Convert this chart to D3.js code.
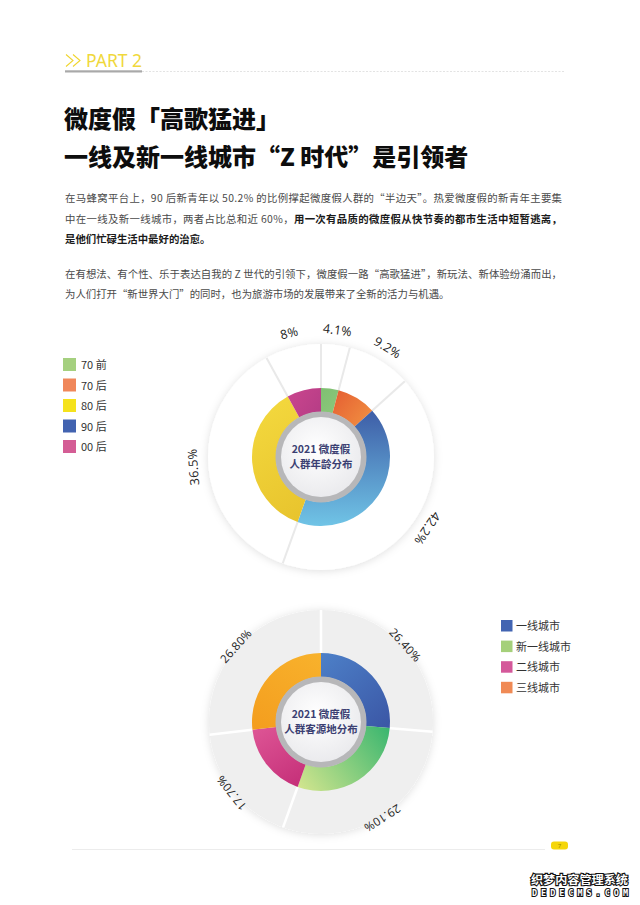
<!DOCTYPE html>
<html><head><meta charset="utf-8">
<script src="https://cdn.jsdelivr.net/npm/d3@7"></script>
<style>body{margin:0;background:#fff}svg{display:block}</style>
</head><body><svg id="c" width="640" height="905"></svg>
<script>
// ---------- data ----------
const ageLegend = ["70 前", "70 后", "80 后", "90 后", "00 后"];
const ageLegendColors = ["#a5d07f", "#f0875a", "#f5e21c", "#4263b0", "#d45d95"];
const ageSlices = ["70 前", "70 后", "90 后", "80 后", "00 后"];
const ageValues = [4.1, 9.2, 42.2, 36.5, 8];
const ageLabels = ["4.1%", "9.2%", "42.2%", "36.5%", "8%"];

const cityCats = ["一线城市", "新一线城市", "二线城市", "三线城市"];
const cityValues = [26.4, 29.1, 17.7, 26.8];
const cityLabels = ["26.40%", "29.10%", "17.70%", "26.80%"];
const cityLegendColors = ["#4264b2", "#a5d07a", "#d4589a", "#f08a55"];

const titleLines = ["微度假「高歌猛进」", "一线及新一线城市“Z 时代”是引领者"];
const paraLines = [
  [["在马蜂窝平台上，90 后新青年以 50.2% 的比例撑起微度假人群的“半边天”。热爱微度假的新青年主要集", false]],
  [["中在一线及新一线城市，两者占比总和近 60%，", false], ["用一次有品质的微度假从快节奏的都市生活中短暂逃离，", true]],
  [["是他们忙碌生活中最好的治愈。", true]],
  [["在有想法、有个性、乐于表达自我的 Z 世代的引领下，微度假一路“高歌猛进”，新玩法、新体验纷涌而出，", false]],
  [["为人们打开“新世界大门”的同时，也为旅游市场的发展带来了全新的活力与机遇。", false]]
];

// ---------- page ----------
const svg = d3.select("#c");
const CJK = "'Noto Sans CJK SC','Noto Sans',sans-serif";
const defs = svg.append("defs");

const f = defs.append("filter").attr("id", "sh").attr("x", "-20%").attr("y", "-20%").attr("width", "140%").attr("height", "140%");
f.append("feDropShadow").attr("dx", 0).attr("dy", 1).attr("stdDeviation", 4).attr("flood-color", "#000").attr("flood-opacity", 0.13);

const rg = defs.append("radialGradient").attr("id", "hub").attr("cx", "45%").attr("cy", "40%").attr("r", "65%");
rg.append("stop").attr("offset", "0%").attr("stop-color", "#ffffff");
rg.append("stop").attr("offset", "100%").attr("stop-color", "#e9e9ec");

function lg(id, x1, y1, x2, y2, c1, c2) {
  const g = defs.append("linearGradient").attr("id", id).attr("gradientUnits", "userSpaceOnUse")
    .attr("x1", x1).attr("y1", y1).attr("x2", x2).attr("y2", y2);
  g.append("stop").attr("offset", "0%").attr("stop-color", c1);
  g.append("stop").attr("offset", "100%").attr("stop-color", c2);
  return "url(#" + id + ")";
}

// header
const hd = svg.append("g");
[66, 73].forEach(x => hd.append("path")
  .attr("d", `M${x},54.5 L${x + 7},60.5 L${x},66.5`)
  .attr("fill", "none").attr("stroke", "#f0d52e").attr("stroke-width", 1.1));
hd.append("text").attr("x", 86).attr("y", 67).text("PART 2")
  .attr("font-family", "'Noto Sans',sans-serif").attr("font-size", 17.5).attr("fill", "#f0d83c");
hd.append("rect").attr("x", 65).attr("y", 70.3).attr("width", 77).attr("height", 2.2).attr("fill", "#a9a9a9");
hd.append("line").attr("x1", 142).attr("x2", 565).attr("y1", 71.5).attr("y2", 71.5)
  .attr("stroke", "#e3e3e3").attr("stroke-width", 1).attr("stroke-dasharray", "2,1.5");

// title
titleLines.forEach((t, i) => svg.append("text").attr("x", 64).attr("y", 127.5 + i * 38)
  .attr("font-family", CJK).attr("font-weight", 900).attr("font-size", 24).attr("fill", "#0d0d0d").text(t));

// paragraphs
const baselines = [202, 222.5, 243, 277.5, 298];
const justify = [true, true, false, true, false];
paraLines.forEach((segs, i) => {
  const t = svg.append("text").attr("x", 65).attr("y", baselines[i])
    .attr("font-family", CJK).attr("font-size", 10.4);
  segs.forEach(([s, b]) => t.append("tspan").text(s)
    .attr("font-weight", b ? 700 : 400).attr("fill", b ? "#1a1a1a" : "#4a4a4a"));
  if (justify[i]) t.attr("textLength", 497).attr("lengthAdjust", "spacing");
});

// ---------- donut helper ----------
function donut(cx, cy, opt) {
  const g = svg.append("g").attr("transform", `translate(${cx},${cy})`);
  const pie = d3.pie().sort(null).value(d => d.v);
  const arcs = pie(opt.data);
  g.append("circle").attr("r", opt.R).attr("fill", opt.bg).attr("filter", "url(#sh)");
  arcs.forEach(a => {
    const ang = a.startAngle;
    g.append("line")
      .attr("x1", Math.sin(ang) * (opt.r1 - 2)).attr("y1", -Math.cos(ang) * (opt.r1 - 2))
      .attr("x2", Math.sin(ang) * opt.R).attr("y2", -Math.cos(ang) * opt.R)
      .attr("stroke", opt.sep).attr("stroke-width", opt.sepW);
  });
  const arc = d3.arc().innerRadius(opt.r0).outerRadius(opt.r1);
  g.selectAll("path.s").data(arcs).join("path").attr("class", "s")
    .attr("d", arc).attr("fill", (d, i) => opt.fills[i]);
  g.append("circle").attr("r", opt.r0 + 0.5).attr("fill", "#b7b7b9");
  g.append("circle").attr("r", opt.r0 - 5).attr("fill", "url(#hub)");
  opt.center.forEach((t, i) => g.append("text").attr("y", -4 + i * 15).attr("text-anchor", "middle")
    .attr("font-family", CJK).attr("font-weight", 700).attr("font-size", 10.5)
    .attr("fill", "#3b3f72").text(t));
  arcs.forEach((a, i) => {
    const ang = (a.startAngle + a.endAngle) / 2;
    const x = Math.sin(ang) * opt.LR, y = -Math.cos(ang) * opt.LR;
    g.append("text").attr("transform", `translate(${x},${y}) rotate(${ang * 180 / Math.PI})`)
      .attr("text-anchor", "middle").attr("dy", "0.35em")
      .attr("font-family", "'Open Sans','Noto Sans',sans-serif").attr("font-size", opt.lfs)
      .attr("fill", "#222").attr("letter-spacing", 0.3).text(opt.labels[i]);
  });
}

// chart 1
donut(321, 457, {
  data: ageSlices.map((k, i) => ({ k, v: ageValues[i] })),
  labels: ageLabels,
  R: 113, r0: 45, r1: 69, LR: 128, lfs: 12.5,
  bg: "#ffffff", sep: "#e9e9e9", sepW: 2,
  center: ["2021 微度假", "人群年龄分布"],
  fills: [
    lg("a0", 0, -69, 20, -50, "#7fbf72", "#8bc77a"),
    lg("a1", 15, -68, 50, -40, "#e55f32", "#f08c40"),
    lg("a2", 0, -50, 0, 69, "#3c5aa5", "#70c4e6"),
    lg("a3", -60, -40, 10, 69, "#f2d63c", "#e6c02a"),
    lg("a4", -30, -65, 0, -45, "#c8458d", "#b63d86")
  ]
});

// chart 2
donut(321, 722, {
  data: cityCats.map((k, i) => ({ k, v: cityValues[i] })),
  labels: cityLabels,
  R: 112, r0: 45, r1: 69, LR: 114, lfs: 11.5,
  bg: "#efefef", sep: "#ffffff", sepW: 2.5,
  center: ["2021 微度假", "人群客源地分布"],
  fills: [
    lg("b0", 0, -69, 69, 10, "#4d80c8", "#3a55a4"),
    lg("b1", 69, 0, -20, 69, "#34b46e", "#d2e58e"),
    lg("b2", -10, 65, -65, -25, "#c32c76", "#e6629f"),
    lg("b3", -60, 30, 0, -69, "#f39a1c", "#f8b22c")
  ]
});

// legends
const l1 = svg.append("g").attr("transform", "translate(63,358)");
ageLegend.forEach((t, i) => {
  l1.append("rect").attr("y", i * 20.5).attr("width", 13).attr("height", 13).attr("fill", ageLegendColors[i]);
  l1.append("text").attr("x", 18).attr("y", i * 20.5 + 11).attr("font-family", CJK)
    .attr("font-size", 11).attr("fill", "#333").text(t);
});
const l2 = svg.append("g").attr("transform", "translate(501,620)");
cityCats.forEach((t, i) => {
  l2.append("rect").attr("y", i * 20.6).attr("width", 11.5).attr("height", 11.5).attr("fill", cityLegendColors[i]);
  l2.append("text").attr("x", 15).attr("y", i * 20.6 + 10).attr("font-family", CJK)
    .attr("font-size", 11).attr("fill", "#333").text(t);
});

// footer
svg.append("line").attr("x1", 72).attr("x2", 545).attr("y1", 849.5).attr("y2", 849.5)
  .attr("stroke", "#ececec").attr("stroke-width", 1);
svg.append("rect").attr("x", 551).attr("y", 841.5).attr("width", 17).attr("height", 8).attr("rx", 3).attr("fill", "#f5d60a");
svg.append("text").attr("x", 559.5).attr("y", 848).attr("text-anchor", "middle").attr("font-size", 6)
  .attr("font-family", "'Noto Sans',sans-serif").attr("fill", "#a08a00").text("7");

// watermark
svg.append("text").attr("x", 531).attr("y", 884).attr("font-family", CJK).attr("font-weight", 700)
  .attr("font-size", 11.5).attr("fill", "#fff").attr("stroke", "#111").attr("stroke-width", 2.2)
  .attr("paint-order", "stroke").attr("textLength", 97).attr("lengthAdjust", "spacingAndGlyphs").text("织梦内容管理系统");
svg.append("text").attr("x", 532).attr("y", 896).attr("font-family", "'DejaVu Sans Mono',monospace").attr("font-weight", 700)
  .attr("font-size", 8.5).attr("fill", "#fff").attr("stroke", "#111").attr("stroke-width", 2)
  .attr("paint-order", "stroke").attr("textLength", 96).attr("lengthAdjust", "spacing").text("DEDECMS.COM");
</script></body></html>
